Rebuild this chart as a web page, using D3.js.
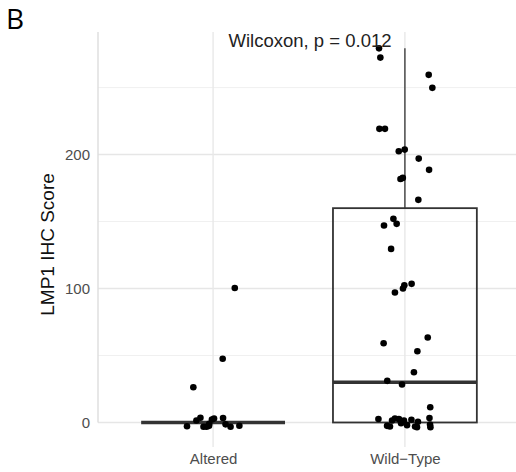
<!DOCTYPE html>
<html>
<head>
<meta charset="utf-8">
<script src="https://cdn.jsdelivr.net/npm/d3@7"></script>
<style>
  body { margin: 0; background: #fff; }
  svg { display: block; font-family: "Liberation Sans", Arial, sans-serif; }
</style>
</head>
<body>
<div id="chart"></div>
<script>
// categories and tick values
const categories = ['Altered', 'Wild\u2212Type'];
const yTicks = [0, 100, 200];
const yMinorTicks = [50, 150, 250];

// scores as plotted (vertical jitter included), with horizontal jitter in category steps
const alteredScores = [100.4, 47.6, 26.3, -2.8, 1.5, 3.5, -3.2, -3.2, -2.5, -1, 2.2, 3.0, 3.3, -1.4, -3.2, -2.4];
const alteredJitter = [0.113, 0.050, -0.103, -0.136, -0.087, -0.066, -0.050, -0.034, -0.021, -0.020, -0.006, 0.005, 0.052, 0.065, 0.091, 0.137];

const wildScores = [279.3, 272.4, 259.5, 249.8, 219.2, 219.2, 202.5, 203.7, 197, 188.6, 182.6, 181.8,
  166.2, 152, 148.3, 147, 129.6, 97, 100, 102.5, 103.5, 59.2, 63.4, 53.2, 37.5, 31.1, 28.4, 11.4,
  2.6, -2.5, -3, 1.5, 3.0, 2.5, -0.5, 1.5, -2, 2, -3, 0.5, -3.5, 3.3, -1.5, -3.5];
const wildJitter = [-0.135, -0.128, 0.124, 0.143, -0.133, -0.104, -0.032, -0.001, 0.072, 0.126, -0.011, -0.023,
  0.070, -0.060, -0.043, -0.109, -0.072, -0.052, -0.010, -0.003, 0.035, -0.111, 0.119, 0.065, 0.047, -0.092, -0.015, 0.132,
  -0.138, -0.093, -0.078, -0.067, -0.052, -0.031, -0.020, -0.005, 0.011, 0.034, 0.053, 0.068, 0.063, 0.128, 0.131, 0.133];

// box statistics per category
const boxLower = [0, 0];
const boxQ1 = [0, 0];
const boxMedian = [0, 30];
const boxQ3 = [0, 160];
const boxUpper = [0, 279.3];

const testLabel = 'Wilcoxon, p = 0.012';
const yTitle = 'LMP1 IHC Score';
const panelTag = 'B';

const width = 516, height = 472;
const panel = { left: 98, right: 520, top: 32, bottom: 447 };

const svg = d3.select('#chart').append('svg')
  .attr('width', width)
  .attr('height', height);

const x = d3.scalePoint()
  .domain(categories)
  .range([panel.left, panel.right])
  .padding(0.6);
const step = x.step();

const y = d3.scaleLinear()
  .domain([-18.3, 291.5])
  .range([panel.bottom, panel.top]);

// gridlines
svg.append('g')
  .selectAll('line')
  .data(yMinorTicks)
  .join('line')
  .attr('x1', panel.left).attr('x2', width)
  .attr('y1', d => y(d)).attr('y2', d => y(d))
  .style('stroke', '#f0f0f0')
  .style('stroke-width', 1);

svg.append('g')
  .selectAll('line')
  .data(yTicks)
  .join('line')
  .attr('x1', panel.left).attr('x2', width)
  .attr('y1', d => y(d)).attr('y2', d => y(d))
  .style('stroke', '#e6e6e6')
  .style('stroke-width', 1.6);

svg.append('g')
  .selectAll('line')
  .data(categories)
  .join('line')
  .attr('x1', d => x(d)).attr('x2', d => x(d))
  .attr('y1', panel.top).attr('y2', panel.bottom)
  .style('stroke', '#e8e8e8')
  .style('stroke-width', 1.4);

// left edge line
svg.append('line')
  .attr('x1', panel.left).attr('x2', panel.left)
  .attr('y1', panel.top).attr('y2', y(0))
  .style('stroke', '#dddddd')
  .style('stroke-width', 1.4);

// y axis tick labels
svg.append('g')
  .attr('transform', `translate(${panel.left},0)`)
  .call(d3.axisLeft(y).tickValues(yTicks).tickSize(0).tickPadding(8))
  .call(g => g.select('.domain').remove())
  .selectAll('text')
  .attr('font-family', '"Liberation Sans", Arial, sans-serif')
  .style('font-size', '15px')
  .style('fill', '#4d4d4d');

// x axis tick labels
svg.append('g')
  .attr('transform', `translate(0,${panel.bottom})`)
  .call(d3.axisBottom(x).tickSize(0).tickPadding(6))
  .call(g => g.select('.domain').remove())
  .selectAll('text')
  .attr('font-family', '"Liberation Sans", Arial, sans-serif')
  .style('font-size', '15px')
  .style('fill', '#4d4d4d');

// boxplots
const boxW = step * 0.75;
const boxes = svg.append('g')
  .selectAll('g')
  .data(categories)
  .join('g');

boxes.append('line')
  .attr('x1', d => x(d)).attr('x2', d => x(d))
  .attr('y1', (d, i) => y(boxUpper[i])).attr('y2', (d, i) => y(boxQ3[i]))
  .style('stroke', '#333')
  .style('stroke-width', 1.3);

boxes.append('line')
  .attr('x1', d => x(d)).attr('x2', d => x(d))
  .attr('y1', (d, i) => y(boxQ1[i])).attr('y2', (d, i) => y(boxLower[i]))
  .style('stroke', '#333')
  .style('stroke-width', 1.3);

boxes.append('rect')
  .attr('x', d => x(d) - boxW / 2)
  .attr('width', boxW)
  .attr('y', (d, i) => y(boxQ3[i]))
  .attr('height', (d, i) => y(boxQ1[i]) - y(boxQ3[i]))
  .style('fill', 'none')
  .style('stroke', '#333')
  .style('stroke-width', 1.8);

boxes.append('line')
  .attr('x1', d => x(d) - boxW / 2).attr('x2', d => x(d) + boxW / 2)
  .attr('y1', (d, i) => y(boxMedian[i])).attr('y2', (d, i) => y(boxMedian[i]))
  .style('stroke', '#333')
  .style('stroke-width', 3.4);

// jittered points
const points = [
  ...alteredScores.map((v, i) => ({ cat: categories[0], v, j: alteredJitter[i] })),
  ...wildScores.map((v, i) => ({ cat: categories[1], v, j: wildJitter[i] }))
];

svg.append('g')
  .selectAll('circle')
  .data(points)
  .join('circle')
  .attr('cx', d => x(d.cat) + d.j * step)
  .attr('cy', d => y(d.v))
  .attr('r', 3.3)
  .style('fill', '#000');

// annotation
svg.append('text')
  .attr('x', (x(categories[0]) + x(categories[1])) / 2 + 1)
  .attr('y', 47)
  .attr('text-anchor', 'middle')
  .style('font-size', '18.5px')
  .style('fill', '#222')
  .text(testLabel);

// y title
svg.append('text')
  .attr('transform', `translate(47,${(panel.top + panel.bottom) / 2 + 5}) rotate(-90)`)
  .attr('text-anchor', 'middle')
  .attr('dy', '0.35em')
  .style('font-size', '19px')
  .style('fill', '#111')
  .text(yTitle);

// panel tag
svg.append('text')
  .attr('x', 6)
  .attr('y', 29)
  .style('font-size', '28px')
  .style('font-family', '"Open Sans", "Liberation Sans", sans-serif')
  .style('fill', '#000')
  .text(panelTag);
</script>
</body>
</html>
